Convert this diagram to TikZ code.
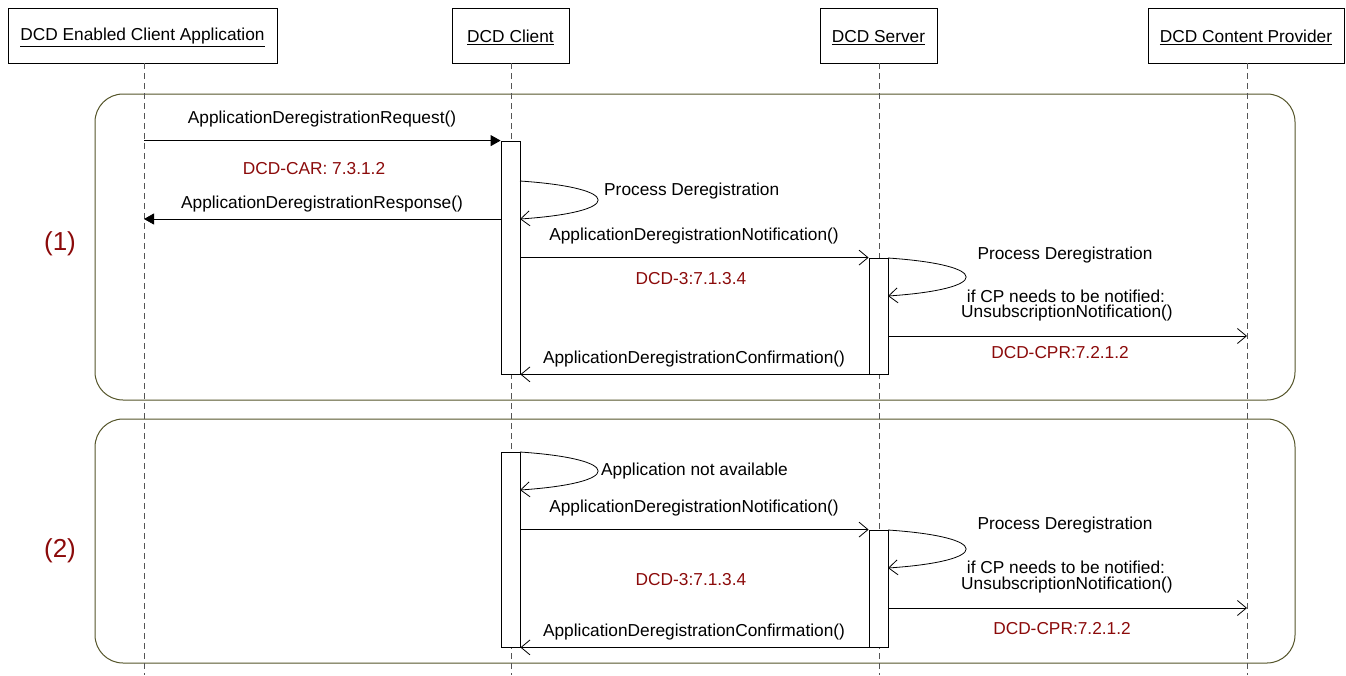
\documentclass[tikz,border=0pt]{standalone}
\usepackage{fontspec}
\setmainfont{Liberation Sans}
\usetikzlibrary{arrows.meta}
\definecolor{refred}{HTML}{8B0A0A}
\definecolor{frameol}{HTML}{55552A}
\definecolor{lifegrey}{HTML}{555555}
\begin{document}
\begin{tikzpicture}[x=1pt,y=-1pt,
  every node/.style={font=\fontsize{17.3}{20}\selectfont, inner sep=0pt},
  head/.style={draw, line width=0.8pt, minimum width=0pt, minimum height=0pt},
  htext/.style={anchor=center, yshift=-2pt},
  lifeline/.style={draw=lifegrey, dash pattern=on 6pt off 4pt, line width=0.8pt},
  frame/.style={draw=frameol, line width=1pt, rounded corners=28pt},
  bar/.style={draw, fill=white, line width=0.8pt},
  sync/.style={line width=0.8pt, -{Triangle[length=10pt,width=11pt]}},
  async/.style={line width=0.8pt, -{Straight Barb[length=9pt,width=15pt,line width=0.8pt]}},
  msg/.style={anchor=center, yshift=-1.5pt},
  ref/.style={text=refred, anchor=center, yshift=-1.5pt},
  num/.style={text=refred, font=\fontsize{26}{30}\selectfont}
]
\useasboundingbox (0,0) rectangle (1346,675);

% frames
\draw[frame] (95,94) rectangle (1295,400);
\draw[frame] (95,419) rectangle (1295,663);
\node[num] (n1) at (60,244) {(1)};
\node[num] (n2) at (60,551) {(2)};

% lifeline heads
\node[head, minimum width=269pt, minimum height=55pt] (app) at (142.5,35.5) {};
\node[head, minimum width=117pt, minimum height=55pt] (cli) at (510.5,35.5) {};
\node[head, minimum width=117pt, minimum height=55pt] (srv) at (878.5,35.5) {};
\node[head, minimum width=196pt, minimum height=55pt] (cp) at (1246,35.5) {};
\node[htext] (appT) at (app.center) {\underline{DCD Enabled Client Application}};
\node[htext] (cliT) at (cli.center) {\underline{DCD Client}};
\node[htext] (srvT) at (srv.center) {\underline{DCD Server}};
\node[htext] (cpT) at (cp.center) {\underline{DCD Content Provider}};

% lifeline ends
\coordinate (appE) at (144,675);
\coordinate (cliE) at (511,675);
\coordinate (srvE) at (879,675);
\coordinate (cpE) at (1247,675);
\draw[lifeline] (app.south -| appE) -- (appE);
\draw[lifeline] (cli.south -| cliE) -- (cliE);
\draw[lifeline] (srv.south -| srvE) -- (srvE);
\draw[lifeline] (cp.south -| cpE) -- (cpE);

% activation bars
\node[bar, minimum width=19pt, minimum height=233pt] (c1) at (510.5,257.5) {};
\node[bar, minimum width=19pt, minimum height=116pt] (s1) at (878.5,316) {};
\node[bar, minimum width=19pt, minimum height=195pt] (c2) at (510.5,549.5) {};
\node[bar, minimum width=19pt, minimum height=117pt] (s2) at (878.5,588.5) {};

% ---------- frame 1 ----------
\draw[sync] (appE |- c1.north west) -- (c1.north west);
\node[msg] (l1) at (322,118) {ApplicationDeregistrationRequest()};
\node[ref] (r1) at (314,167) {DCD-CAR: 7.3.1.2};

\coordinate (lp1a) at (520,181);
\coordinate (lp1b) at (520,219);
\draw[async] (lp1a) .. controls (624,188) and (624,212) .. (lp1b);
\node[anchor=west, yshift=-1.5pt] (l2) at (604,190) {Process Deregistration};

\coordinate (rs1) at (501,219);
\draw[sync] (rs1) -- (rs1 -| appE);
\node[msg] (l3) at (322,203) {ApplicationDeregistrationResponse()};

\draw[async] (c1.east |- s1.north west) -- (s1.north west);
\node[msg] (l4) at (694,235) {ApplicationDeregistrationNotification()};
\node[ref] (r2) at (691,277) {DCD-3:7.1.3.4};

\coordinate (lp2a) at (888,258);
\coordinate (lp2b) at (888,296);
\draw[async] (lp2a) .. controls (992,265) and (992,289) .. (lp2b);
\node[msg] (l5) at (1065,254) {Process Deregistration};
\node[msg] (l6) at (1066,295) {if CP needs to be notified:};
\node[msg] (l7) at (1067,312) {UnsubscriptionNotification()};

\coordinate (un1) at (888,336);
\draw[async] (un1) -- (un1 -| cpE);
\node[ref] (r3) at (1060,351) {DCD-CPR:7.2.1.2};

\draw[async] (s1.south west) -- (s1.south west -| c1.east);
\node[msg] (l8) at (694,358) {ApplicationDeregistrationConfirmation()};

% ---------- frame 2 ----------
\coordinate (lp3a) at (520,452);
\coordinate (lp3b) at (520,490);
\draw[async] (lp3a) .. controls (624,459) and (624,483) .. (lp3b);
\node[anchor=west, yshift=-1.5pt] (l9) at (601,470) {Application not available};

\draw[async] (c2.east |- s2.north west) -- (s2.north west);
\node[msg] (l10) at (694,507) {ApplicationDeregistrationNotification()};
\node[ref] (r4) at (691,578) {DCD-3:7.1.3.4};

\coordinate (lp4a) at (888,530);
\coordinate (lp4b) at (888,568);
\draw[async] (lp4a) .. controls (992,537) and (992,561) .. (lp4b);
\node[msg] (l11) at (1065,524) {Process Deregistration};
\node[msg] (l12) at (1066,566) {if CP needs to be notified:};
\node[msg] (l13) at (1067,584) {UnsubscriptionNotification()};

\coordinate (un2) at (888,608);
\draw[async] (un2) -- (un2 -| cpE);
\node[ref] (r5) at (1062,627) {DCD-CPR:7.2.1.2};

\draw[async] (s2.south west) -- (s2.south west -| c2.east);
\node[msg] (l14) at (694,631) {ApplicationDeregistrationConfirmation()};
\end{tikzpicture}
\end{document}
